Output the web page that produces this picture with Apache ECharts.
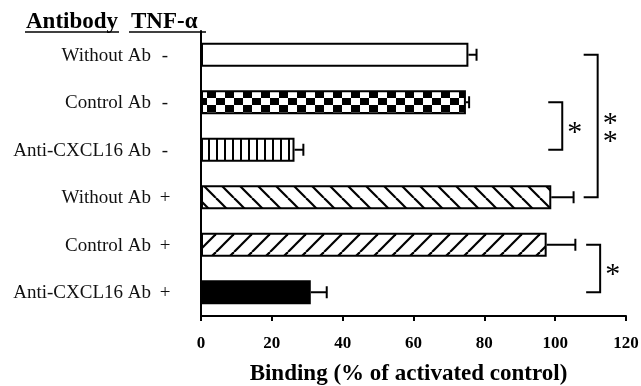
<!DOCTYPE html>
<html>
<head>
<meta charset="utf-8">
<script src="https://cdn.jsdelivr.net/npm/echarts@6/dist/echarts.min.js"></script>
<style>
html,body{margin:0;padding:0;background:#fff}
#main{width:641px;height:386px}
</style>
</head>
<body>
<div id="main"></div>
<script>
// 数据
var antibodies = ['Without Ab', 'Control Ab', 'Anti-CXCL16 Ab', 'Without Ab', 'Control Ab', 'Anti-CXCL16 Ab'];
var tnf = ['-', '-', '-', '+', '+', '+'];
var binding = [75.5, 74.8, 26.4, 98.9, 97.6, 31.0];
var sem = [2.3, 0.9, 2.5, 6.3, 8.1, 4.5];
var fills = ['white', 'check', 'vlines', 'back', 'fwd', 'black'];
// 显著性标记: [x位置, 起始行, 结束行]
var brackets = [[102, 1, 2], [112, 0, 3], [112.7, 4, 5]];
var bracketStars = ['*', '*\n*', '*'];

var serif = '"Liberation Serif", "Times New Roman", serif';

function makePattern(kind) {
    if (kind == 'white') return '#fff';
    if (kind == 'black') return '#000';
    var c = document.createElement('canvas');
    var ctx;
    if (kind == 'check') {
        c.width = 18; c.height = 14;
        ctx = c.getContext('2d');
        ctx.fillStyle = '#fff'; ctx.fillRect(0, 0, 18, 14);
        ctx.fillStyle = '#000';
        ctx.fillRect(0, 0, 9, 7);
        ctx.fillRect(9, 7, 9, 7);
    } else if (kind == 'vlines') {
        c.width = 8; c.height = 8;
        ctx = c.getContext('2d');
        ctx.fillStyle = '#fff'; ctx.fillRect(0, 0, 8, 8);
        ctx.fillStyle = '#000'; ctx.fillRect(0, 0, 2, 8);
    } else {
        c.width = 18; c.height = 18;
        ctx = c.getContext('2d');
        ctx.fillStyle = '#fff'; ctx.fillRect(0, 0, 18, 18);
        ctx.strokeStyle = '#000'; ctx.lineWidth = 2.2;
        for (var o = -18; o <= 18; o += 18) {
            ctx.beginPath();
            if (kind == 'back') { ctx.moveTo(o, 0); ctx.lineTo(o + 18, 18); }
            else { ctx.moveTo(o, 18); ctx.lineTo(o + 18, 0); }
            ctx.stroke();
        }
    }
    return { image: c, repeat: 'repeat' };
}

var barData = binding.map(function (v, i) {
    return { value: v, itemStyle: { color: makePattern(fills[i]) } };
});
var errData = binding.map(function (v, i) { return [i, v, sem[i]]; });

var myChart = echarts.init(document.getElementById('main'));
myChart.setOption({
    animation: false,
    grid: { left: 201, right: 15, top: 31, bottom: 70, outerBoundsMode: 'none' },
    xAxis: {
        type: 'value',
        min: 0, max: 120, interval: 20,
        splitLine: { show: false },
        axisLine: { show: true, lineStyle: { color: '#000', width: 2 } },
        axisTick: { show: true, length: 5, lineStyle: { color: '#000', width: 2 } },
        axisLabel: { color: '#000', fontFamily: serif, fontWeight: 'bold', fontSize: 17, margin: 19 },
        name: 'Binding (% of activated control)',
        nameLocation: 'middle',
        nameGap: 47,
        nameTextStyle: { color: '#000', fontFamily: serif, fontWeight: 'bold', fontSize: 23, padding: [0, 10, 0, 0] }
    },
    yAxis: {
        type: 'category',
        inverse: true,
        data: antibodies,
        axisLine: { show: true, lineStyle: { color: '#000', width: 2 } },
        axisTick: { show: false },
        axisLabel: {
            margin: 25,
            formatter: function (val, i) {
                return '{n|' + val + '}{s|' + tnf[i] + '}';
            },
            rich: {
                n: { fontFamily: serif, fontSize: 19, color: '#111', padding: [2, 3, 0, 0] },
                s: { fontFamily: serif, fontSize: 19, color: '#111', width: 22, align: 'center', padding: [2, 0, 0, 0] }
            }
        }
    },
    graphic: [
        { type: 'text', left: 26, top: 11, style: { text: 'Antibody', font: 'bold 23px ' + serif, fill: '#000' } },
        { type: 'line', shape: { x1: 25, y1: 32, x2: 119, y2: 32 }, style: { stroke: '#000', lineWidth: 1.5 } },
        { type: 'text', left: 131, top: 11, style: { text: 'TNF-α', font: 'bold 23px ' + serif, fill: '#000' } },
        { type: 'line', shape: { x1: 129, y1: 32, x2: 206, y2: 32 }, style: { stroke: '#000', lineWidth: 1.5 } }
    ],
    series: [
        {
            type: 'bar',
            data: barData,
            barWidth: 24,
            itemStyle: { borderColor: '#000', borderWidth: 2 },
            z: 2
        },
        {
            type: 'custom',
            data: errData,
            encode: { x: 1, y: 0 },
            z: 3,
            renderItem: function (params, api) {
                var row = api.value(0), v = api.value(1), e = api.value(2);
                var p0 = api.coord([v, row]);
                var p1 = api.coord([v + e, row]);
                return {
                    type: 'group',
                    children: [
                        { type: 'line', shape: { x1: p0[0], y1: p0[1], x2: p1[0], y2: p1[1] }, style: { stroke: '#000', lineWidth: 2 } },
                        { type: 'line', shape: { x1: p1[0], y1: p1[1] - 6, x2: p1[0], y2: p1[1] + 6 }, style: { stroke: '#000', lineWidth: 2 } }
                    ]
                };
            }
        },
        {
            type: 'custom',
            data: brackets,
            encode: { x: 0, y: 1 },
            z: 3,
            renderItem: function (params, api) {
                var x = api.value(0);
                var pa = api.coord([x, api.value(1)]);
                var pb = api.coord([x, api.value(2)]);
                var arm = 14;
                return {
                    type: 'group',
                    children: [
                        {
                            type: 'polyline',
                            shape: { points: [[pa[0] - arm, pa[1]], [pa[0], pa[1]], [pb[0], pb[1]], [pb[0] - arm, pb[1]]] },
                            style: { stroke: '#000', lineWidth: 2, fill: null }
                        },
                        {
                            type: 'text',
                            x: pa[0] + 5,
                            y: (pa[1] + pb[1]) / 2 + 7,
                            style: {
                                text: bracketStars[params.dataIndex],
                                font: '30px ' + serif,
                                lineHeight: 18,
                                fill: '#000',
                                verticalAlign: 'middle'
                            }
                        }
                    ]
                };
            }
        }
    ]
});
</script>
</body>
</html>
